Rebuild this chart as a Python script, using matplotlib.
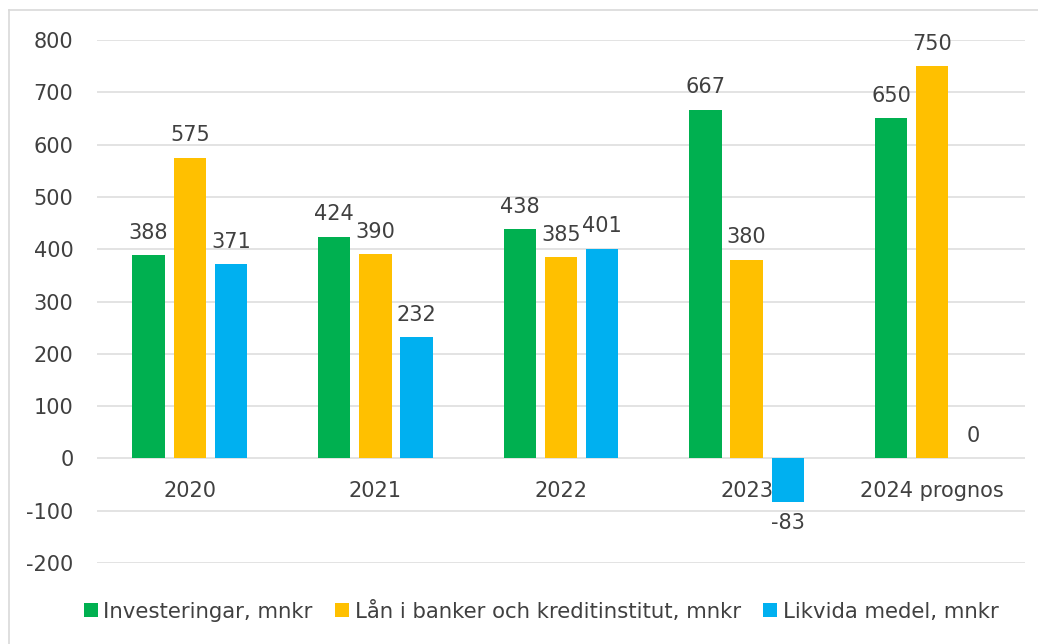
import matplotlib
matplotlib.use("Agg")
import matplotlib.pyplot as plt
from matplotlib.lines import Line2D
import numpy as np

categories = ["2020", "2021", "2022", "2023", "2024 prognos"]
series_names = ["Investeringar, mnkr", "Lån i banker och kreditinstitut, mnkr", "Likvida medel, mnkr"]
investeringar = [388, 424, 438, 667, 650]
lan = [575, 390, 385, 380, 750]
likvida = [371, 232, 401, -83, 0]
colors = ["#00B050", "#FFC000", "#00B0F0"]
yticks = list(range(-200, 801, 100))

plt.rcParams['font.family'] = ['DejaVu Sans']
text_color = "#404040"
fs = 15

fig = plt.figure(figsize=(10.38, 6.44), dpi=100)
ax = fig.add_axes([97/1038, 1 - 563/644, 928/1038, 523/644])

x = np.arange(len(categories))
width = 0.175
offset = 0.222
all_series = [investeringar, lan, likvida]
for k, (vals, col, name) in enumerate(zip(all_series, colors, series_names)):
    pos = x + (k - 1) * offset
    ax.bar(pos, vals, width=width, color=col, label=name, zorder=3)
    for p, v in zip(pos, vals):
        if v >= 0:
            ax.annotate(f"{v}", (p, v), xytext=(0, 9), textcoords="offset points",
                        ha="center", va="bottom", fontsize=fs, color=text_color)
        else:
            ax.annotate(f"{v}", (p, v), xytext=(0, -8), textcoords="offset points",
                        ha="center", va="top", fontsize=fs, color=text_color)

for i, c in enumerate(categories):
    ax.annotate(c, (i, 0), xytext=(0, -16), textcoords="offset points",
                ha="center", va="top", fontsize=fs, color=text_color)

ax.set_xlim(-0.5, len(categories) - 0.5)
ax.set_ylim(-200, 800)
ax.set_yticks(yticks)
ax.set_yticklabels([str(t) for t in yticks], fontsize=fs, color=text_color)
ax.set_xticks([])
ax.tick_params(axis="y", length=0, pad=17)
ax.grid(axis="y", color="#E0E0E0", linewidth=1.3, zorder=0)
for s in ax.spines.values():
    s.set_visible(False)

leg = fig.legend(loc="center", bbox_to_anchor=(541/1038, 1 - 611/644), ncol=3, frameon=False,
                 fontsize=15.3, handlelength=0.67, handleheight=0.67, handletextpad=0.25,
                 columnspacing=1.05)
for t in leg.get_texts():
    t.set_color(text_color)

# outer chart border (top and left visible)
fig.add_artist(Line2D([9/1038, 9/1038], [0, 1 - 10/644], transform=fig.transFigure,
                      color="#D9D9D9", linewidth=1.2))
fig.add_artist(Line2D([9/1038, 1], [1 - 10/644, 1 - 10/644], transform=fig.transFigure,
                      color="#D9D9D9", linewidth=1.2))

fig.savefig("out.png", dpi=100)
